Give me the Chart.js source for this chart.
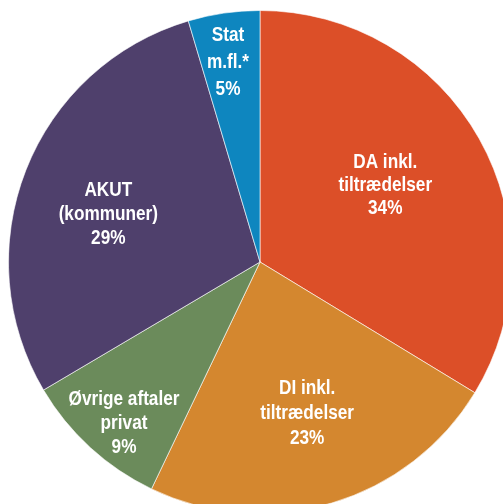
<!DOCTYPE html>
<html>
<head>
<meta charset="utf-8">
<script src="https://cdn.jsdelivr.net/npm/chart.js@4"></script>
<style>
  html, body { margin: 0; padding: 0; background: #fff; overflow: hidden; }
  #wrap { position: absolute; left: 0; top: 0; width: 520px; height: 524px; }
</style>
</head>
<body>
<div id="wrap"><canvas id="pie"></canvas></div>
<script>
"use strict"

// data (andele aflæst fra vinklerne, vist afrundet)
const kategorier = ["DA inkl.\ntiltrædelser", "DI inkl.\ntiltrædelser", "Øvrige aftaler\nprivat", "AKUT\n(kommuner)", "Stat\nm.fl.*"];
const andele = [33.7, 23.4, 9.4, 28.9, 4.6];
const farver = ["#DC4F28", "#D4872F", "#6B8B5B", "#4F406C", "#0E86BF"];

// white labels inside the slices
const etiketter = {
    id: "etiketter",
    afterDatasetsDraw(chart, args, opts) {
        let ctx = chart.ctx;
        let meta = chart.getDatasetMeta(0);
        ctx.save();
        ctx.fillStyle = "#fff";
        ctx.textAlign = "center";
        ctx.textBaseline = "middle";
        ctx.font = "bold 20px 'Liberation Sans Narrow', 'Liberation Sans', sans-serif";
        meta.data.forEach((arc, i) => {
            let p = arc.getProps(["x", "y", "startAngle", "endAngle", "outerRadius"], true);
            let mid = (p.startAngle + p.endAngle) / 2;
            let r = p.outerRadius * opts.afstand[i];
            let cx = p.x + Math.cos(mid) * r + opts.forskyd[i][0];
            let cy = p.y + Math.sin(mid) * r + opts.forskyd[i][1];
            let linjer = chart.data.labels[i].split("\n");
            linjer.push(Math.round(chart.data.datasets[0].data[i]) + "%");
            let lh = opts.linjehoejde[i];
            linjer.forEach((l, j) => {
                ctx.save();
                ctx.translate(cx, cy + (j - (linjer.length - 1) / 2) * lh);
                ctx.scale(0.86, 1);
                ctx.fillText(l, 0, 0);
                ctx.restore();
            });
        });
        ctx.restore();
    }
};

let ctx = document.getElementById("pie").getContext("2d");

new Chart(ctx, {
    type: "pie",
    data: {
        labels: kategorier,
        datasets: [{
            data: andele,
            backgroundColor: farver,
            borderColor: "rgba(255,255,255,0.6)",
            borderWidth: 1
        }]
    },
    options: {
        responsive: true,
        maintainAspectRatio: false,
        animation: false,
        layout: { padding: 8 },
        plugins: {
            legend: { display: false },
            tooltip: { enabled: false },
            etiketter: {
                afstand: [0.585, 0.63, 0.83, 0.635, 0.8],
                forskyd: [[-3, -4], [2, 0], [5, 8], [-3, 11], [-3, 0]],
                linjehoejde: [23, 25, 24, 24, 27]
            }
        }
    },
    plugins: [etiketter]
});
</script>
</body>
</html>
